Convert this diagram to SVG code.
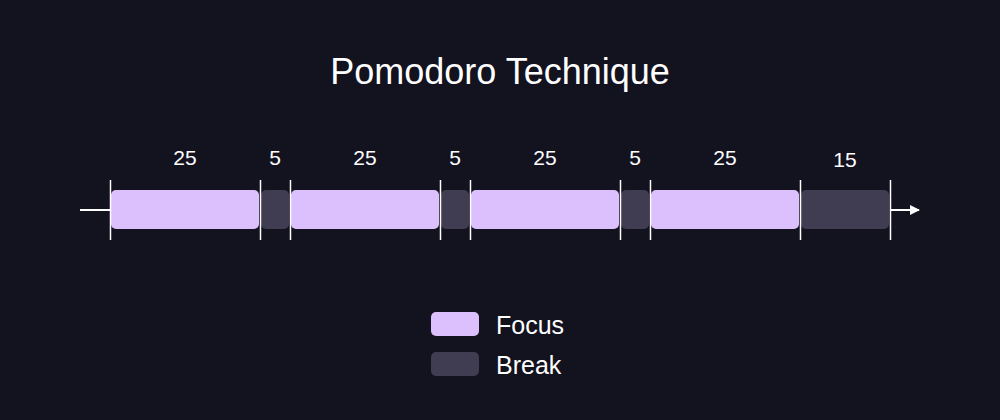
<svg xmlns="http://www.w3.org/2000/svg" width="1000" height="420" viewBox="0 0 1000 420">
<defs>
<style>
.bg{fill:#13121f}
.focus{fill:#dcc0fd}
.brk{fill:#403d52}
.tick{stroke:#ffffff;stroke-width:1.5}
.axis{stroke:#ffffff;stroke-width:2;fill:none}
.t{fill:#ffffff;font-family:"Liberation Sans",Arial,sans-serif}
.lbl{font-size:21px;text-anchor:middle}
.title{font-size:36px;text-anchor:middle}
.leg{font-size:25px}
</style>
<marker id="arr" viewBox="0 0 10 10" refX="9" refY="5" markerWidth="10" markerHeight="10" markerUnits="userSpaceOnUse" orient="auto">
<path d="M0,0 L10,5 L0,10 Z" fill="#ffffff"/>
</marker>
</defs>
<rect class="bg" x="0" y="0" width="1000" height="420"/>
<text id="title" class="t title" x="500" y="84">Pomodoro Technique</text>
<g id="blocks">
<g id="focus1"><rect class="focus" x="111" y="190" width="148" height="39" rx="5"/><text class="t lbl" x="185" y="165">25</text></g>
<g id="break1"><rect class="brk" x="261" y="190" width="28" height="39" rx="5"/><text class="t lbl" x="275" y="165">5</text></g>
<g id="focus2"><rect class="focus" x="291" y="190" width="148" height="39" rx="5"/><text class="t lbl" x="365" y="165">25</text></g>
<g id="break2"><rect class="brk" x="441" y="190" width="28" height="39" rx="5"/><text class="t lbl" x="455" y="165">5</text></g>
<g id="focus3"><rect class="focus" x="471" y="190" width="148" height="39" rx="5"/><text class="t lbl" x="545" y="165">25</text></g>
<g id="break3"><rect class="brk" x="621" y="190" width="28" height="39" rx="5"/><text class="t lbl" x="635" y="165">5</text></g>
<g id="focus4"><rect class="focus" x="651" y="190" width="148" height="39" rx="5"/><text class="t lbl" x="725" y="165">25</text></g>
<g id="break4"><rect class="brk" x="801" y="190" width="88" height="39" rx="5"/><text class="t lbl" x="845" y="167">15</text></g>
</g>
<g id="connectors">
<line class="axis" x1="80" y1="210" x2="110" y2="210"/>
<line class="axis" x1="890" y1="210" x2="919" y2="210" marker-end="url(#arr)"/>
<line class="tick" x1="110.5" y1="180" x2="110.5" y2="240"/>
<line class="tick" x1="260.5" y1="180" x2="260.5" y2="240"/>
<line class="tick" x1="290.5" y1="180" x2="290.5" y2="240"/>
<line class="tick" x1="440.5" y1="180" x2="440.5" y2="240"/>
<line class="tick" x1="470.5" y1="180" x2="470.5" y2="240"/>
<line class="tick" x1="620.5" y1="180" x2="620.5" y2="240"/>
<line class="tick" x1="650.5" y1="180" x2="650.5" y2="240"/>
<line class="tick" x1="800.5" y1="180" x2="800.5" y2="240"/>
<line class="tick" x1="890.5" y1="180" x2="890.5" y2="240"/>
</g>
<g id="legend">
<g id="legend-focus"><rect class="focus" x="431" y="312" width="48" height="24" rx="5"/><text class="t leg" x="496" y="334">Focus</text></g>
<g id="legend-break"><rect class="brk" x="431" y="352" width="48" height="24" rx="5"/><text class="t leg" x="496" y="374">Break</text></g>
</g>
</svg>
